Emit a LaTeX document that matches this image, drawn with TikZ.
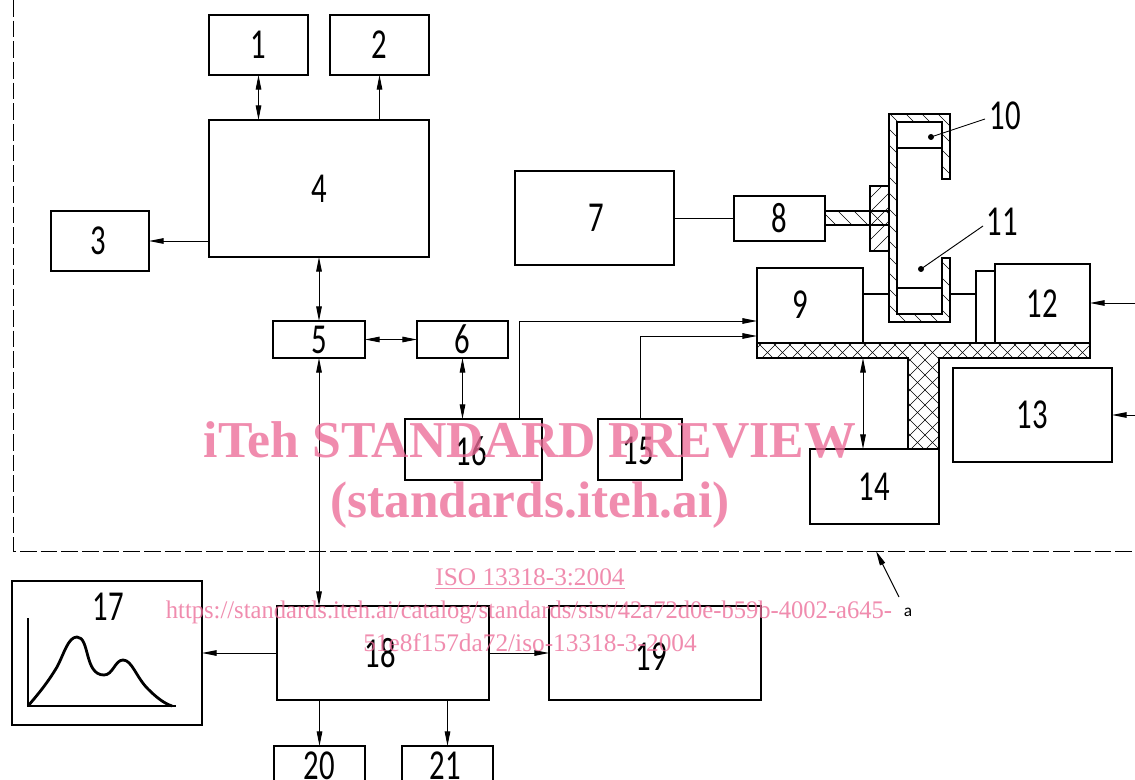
\documentclass[tikz,border=0pt]{standalone}
\usepackage{fontspec}
\usepackage{graphicx}
\setmainfont{Liberation Serif}
\newfontfamily\dgfont{Carlito}
\usetikzlibrary{arrows.meta,calc}
\newcommand{\dg}[1]{\scalebox{0.72}[1]{\dgfont\fontsize{32pt}{32pt}\selectfont #1}}
\newcommand{\pbox}[6]{\node[bx,minimum width={(#4-#2)*0.75pt},minimum height={(#5-#3)*0.75pt}] (#1) at ({(#2+#4)/2},{(#3+#5)/2}) {\dg{#6}};}
\definecolor{wm}{HTML}{EC6C98}
\tikzset{
 bx/.style={draw=black,fill=white,line width=1.7pt,inner sep=0pt,outer sep=0pt,line join=miter},
 conn/.style={draw=black,line width=0.7pt},
 arr/.style={conn,-{Stealth[inset=0pt,length=11pt,width=4.2pt]}},
 darr/.style={conn,{Stealth[inset=0pt,length=11pt,width=4.2pt]}-{Stealth[inset=0pt,length=11pt,width=4.2pt]}},
 thick line/.style={draw=black,line width=1.7pt,line join=miter},
 hatchline/.style={draw=black,line width=0.45pt},
 wmk/.style={text=wm,opacity=0.78,text opacity=0.78,inner sep=0pt,font=\rmfamily},
 dotm/.style={circle,fill=black,inner sep=0pt,minimum size=4.5pt},
 lab/.style={inner sep=0pt}
}
\begin{document}
\begin{tikzpicture}[x=0.75pt,y=-0.75pt]
\useasboundingbox (0,0) rectangle (1135,780);
\clip (0,0) rectangle (1135,780);
\fill[white] (0,0) rectangle (1135,780);
% frame
\draw[draw=black,line width=0.75pt,dash pattern=on 12.5pt off 3pt] (13,0) -- (13,551) -- (1135,551);
% boxes
\pbox{n1}{209}{15}{308}{75}{1}
\pbox{n2}{330}{15}{429}{75}{2}
\pbox{n3}{51}{211}{149}{271}{}
\node[lab] (t3) at (98,241) {\dg{3}};
\pbox{n4}{209}{120}{429}{257}{4}
\pbox{n5}{273}{321}{365}{358}{5}
\pbox{n6}{417}{321}{508}{358}{6}
\pbox{n7}{515}{171}{674}{265}{}
\node[lab] (t7) at (596,218) {\dg{7}};
\pbox{n8}{734}{196}{825}{241}{8}
\pbox{n9}{757}{268}{863}{343}{}
\node[lab] (t9) at (800,305) {\dg{9}};
\pbox{n12a}{976}{271}{995}{343}{}
\pbox{n12}{995}{264}{1090}{343}{12}
\pbox{n13}{953}{368}{1112}{462}{13}
\pbox{n14}{810}{449}{939}{524}{14}
\pbox{n15}{598}{419}{682}{480}{}
\node[lab] (t15) at (638,451) {\dg{15}};
\pbox{n16}{405}{419}{542}{480}{}
\node[lab] (t16l) at (471,451) {\dg{16}};
\pbox{n17}{12}{581}{202}{725}{}
\node[lab] (t17) at (108,607) {\dg{17}};
\pbox{n18}{277}{606}{489}{700}{}
\node[lab] (t18) at (380,653) {\dg{18}};
\pbox{n19}{549}{606}{761}{700}{}
\node[lab] (t19) at (651,657) {\dg{19}};
\pbox{n20}{274}{746}{365}{786}{20}
\pbox{n21}{402}{746}{493}{786}{}
\node[lab] (t21) at (445,766) {\dg{21}};
% chamber
\begin{scope}
\clip (889,114) -- (950,114) -- (950,179) -- (942,179) -- (942,122) -- (897,122) -- (897,314) -- (942,314) -- (942,258) -- (950,258) -- (950,322) -- (889,322) -- cycle;
\foreach \c in {0,16,...,420} \draw[hatchline] ({540+\c},100) -- ++(300,300);
\end{scope}
\draw[thick line] (889,114) -- (950,114) -- (950,179) -- (942,179) -- (942,122) -- (897,122) -- (897,314) -- (942,314) -- (942,258) -- (950,258) -- (950,322) -- (889,322) -- cycle;
\draw[thick line] (897,148) -- (942,148);
\draw[thick line] (897,288) -- (942,288);
% boss
\begin{scope}
\clip (870,186) rectangle (889,251);
\foreach \c in {0,14,...,110} \draw[hatchline] ({860+\c},180) -- ++(-90,90);
\end{scope}
\draw[thick line] (889,186) -- (870,186) -- (870,251) -- (889,251);
% shaft
\begin{scope}
\clip (825,211) rectangle (889,225);
\foreach \c in {0,16,...,96} \draw[hatchline] ({800+\c},205) -- ++(30,30);
\end{scope}
\draw[thick line] (825,211) -- (889,211);
\draw[thick line] (825,225) -- (889,225);
% platform
\begin{scope}
\clip (757,343) -- (1090,343) -- (1090,358) -- (939,358) -- (939,449) -- (908,449) -- (908,358) -- (757,358) -- cycle;
\foreach \c in {0,15,...,500} {
  \draw[hatchline] ({650+\c},340) -- ++(120,120);
  \draw[hatchline] ({750+\c},340) -- ++(-120,120);
}
\end{scope}
\draw[thick line] (757,343) -- (1090,343) -- (1090,358) -- (939,358) -- (939,449) -- (908,449) -- (908,358) -- (757,358) -- cycle;
% leaders and dots
\node[dotm] (d10) at (931,137) {};
\node[dotm] (d11) at (921,269) {};
\node[lab] (l10) at (1005,116) {\dg{10}};
\node[lab] (l11) at (1002,222) {\dg{11}};
\coordinate (e10) at (985,119);
\coordinate (e11) at (983,226);
\draw[conn] (d10.center) -- (e10);
\draw[conn] (d11.center) -- (e11);
% connectors
\draw[darr] (n1.south) -- (n1.south |- n4.north);
\draw[arr] (n2.south |- n4.north) -- (n2.south);
\coordinate (c43) at (209,241);
\draw[arr] (c43) -- (c43 -| n3.east);
\draw[darr] (n4.south) -- (n5.north);
\draw[darr] (n5.east) -- (n6.west);
\draw[darr] (n6.south) -- (n6.south |- n16.north);
\draw[conn] (n7.east |- n8.west) -- (n8.west);
\coordinate (t16) at (519,321);
\draw[arr] (t16 |- n16.north) -- (t16) -- (t16 -| n9.west);
\coordinate (t15b) at (640,336);
\draw[arr] (t15b |- n15.north) -- (t15b) -- (t15b -| n9.west);
\coordinate (pl) at (863,358);
\draw[darr] (pl) -- (pl |- n14.north);
\coordinate (c9) at (863,294);
\draw[conn,line width=1.3pt] (c9) -- (889,294);
\draw[conn,line width=1.3pt] (950,294) -- (c9 -| n12a.west);
\coordinate (i12) at (1135,303);
\draw[arr] (i12) -- (i12 -| n12.east);
\coordinate (i13) at (1135,415);
\draw[arr] (i13) -- (i13 -| n13.east);
\draw[darr] (n5.south) -- (n5.south |- n18.north);
\draw[arr] (n18.west) -- (n18.west -| n17.east);
\draw[arr] (n18.east) -- (n19.west);
\draw[arr] (n20.north |- n18.south) -- (n20.north);
\draw[arr] (n21.north |- n18.south) -- (n21.north);
% label a
\coordinate (a1) at (899,597);
\coordinate (a2) at (876,551);
\draw[arr] (a1) -- (a2);
\node[lab,font=\dgfont\fontsize{13pt}{13pt}\selectfont] (la) at (908,612) {a};
% graph in 17
\coordinate (ax0) at (28,706);
\coordinate (axy) at (28,618);
\coordinate (axx) at (176,706);
\draw[draw=black,line width=1.3pt] (axy) -- (ax0) -- (axx);
\draw[draw=black,line width=2.1pt,line join=round]
 (ax0) .. controls (40,692) and (48,682) .. (57,667)
 .. controls (64,654) and (68,637) .. (77,637)
 .. controls (90,637) and (84,675) .. (104,675)
 .. controls (113,675) and (115,660) .. (123,660)
 .. controls (132,660) and (136,677) .. (148,689)
 .. controls (155,696) and (163,703) .. (172,706);
% watermark
\node[wmk,font=\rmfamily\bfseries\fontsize{38.8pt}{38.8pt}\selectfont] (w1) at (530,440) {iTeh STANDARD PREVIEW};
\node[wmk,font=\rmfamily\bfseries\fontsize{38.5pt}{38.5pt}\selectfont] (w2) at (530,505) {(standards.iteh.ai)};
\node[wmk,font=\rmfamily\fontsize{19pt}{19pt}\selectfont] (w3) at (530,579) {\underline{ISO 13318-3:2004}};
\node[wmk,font=\rmfamily\fontsize{19pt}{19pt}\selectfont] (w4) at (529,612) {\scalebox{0.97}[1]{https://standards.iteh.ai/catalog/standards/sist/42a72d0e-b59b-4002-a645-}};
\node[wmk,font=\rmfamily\fontsize{19pt}{19pt}\selectfont] (w5) at (530,643) {51e8f157da72/iso-13318-3-2004};
\end{tikzpicture}
\end{document}
